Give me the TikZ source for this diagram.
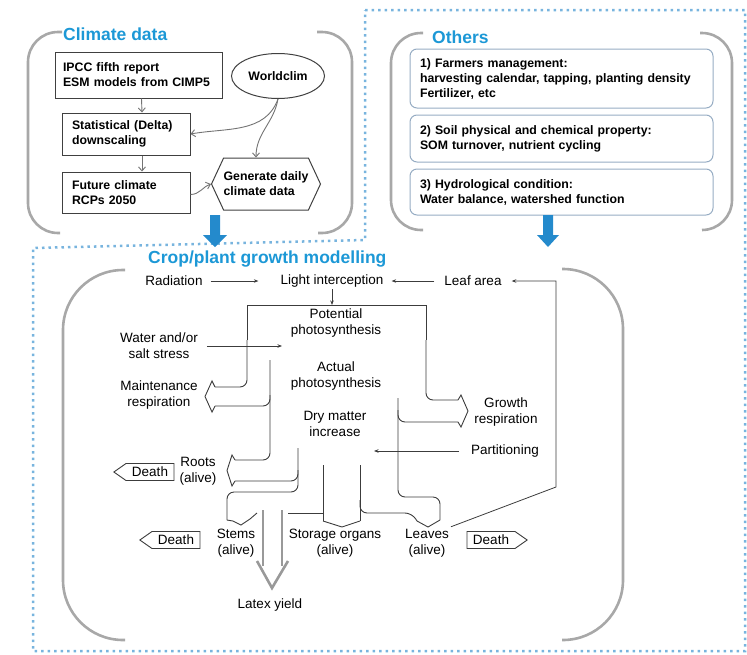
\documentclass[tikz,border=0pt]{standalone}
\usepackage{fontspec}
\setmainfont{Liberation Sans}
\usetikzlibrary{arrows.meta,shapes.geometric,shapes.symbols}
\definecolor{titleBlue}{RGB}{28,152,214}
\definecolor{arrowBlue}{RGB}{36,138,204}
\definecolor{dotBlue}{RGB}{120,180,222}
\definecolor{bracketGray}{RGB}{168,168,168}
\definecolor{boxEdge}{RGB}{150,172,195}
\definecolor{flowGray}{RGB}{60,60,60}
\newcommand{\titleFont}{\fontsize{17.5}{20}\selectfont\bfseries}
\newcommand{\boxFont}{\fontsize{12.3}{15}\selectfont\bfseries}
\newcommand{\flowFont}{\fontsize{13.5}{16}\selectfont}
\newcommand{\pictureWidth}{747}
\newcommand{\pictureHeight}{654}
\newcommand{\panelRadius}{30pt}
\newcommand{\cropRadius}{60pt}

\begin{document}
\begin{tikzpicture}[x=1pt, y=-1pt,
    bracket/.style={draw=bracketGray, line width=2.6pt, rounded corners=#1},
    titleText/.style={text=titleBlue, font=\titleFont, anchor=base west, inner sep=0pt},
    climBox/.style={draw=black!75, line width=1pt, font=\boxFont, align=left, inner xsep=8pt, inner ysep=0pt},
    otherBox/.style={draw=boxEdge, line width=1pt, rounded corners=7pt, font=\boxFont, align=left, text width=283pt, inner xsep=10pt, inner ysep=0pt},
    climArrow/.style={draw=black!55, line width=0.9pt, -{Straight Barb[length=4pt,width=7pt]}},
    flowText/.style={font=\flowFont, align=center, inner sep=2pt},
    flowArrow/.style={draw=flowGray, line width=0.8pt, -{Stealth[length=4.5pt,width=3.5pt]}},
    flowLine/.style={draw=flowGray, line width=0.9pt, rounded corners=7pt},
    flowHead/.style={draw=flowGray, line width=0.9pt, sharp corners},
    yieldLine/.style={draw=black!40, line width=2.2pt},
    deathBox/.style={draw=flowGray, line width=0.9pt, shape=signal, signal pointer angle=70, font=\flowFont, inner xsep=6pt, inner ysep=0pt, minimum height=17pt},
    dotBorder/.style={draw=dotBlue, line width=2.5pt, dash pattern=on 2.5pt off 4pt}]
\useasboundingbox (0,0) rectangle (\pictureWidth,\pictureHeight);
\draw[dotBorder] (365,10) -- (745,10) -- (745,651) -- (33,651) -- (33,248) -- (365,240) -- cycle;

% climate data
\draw[bracket=\panelRadius] (62,32) -- (28,32) -- (28,233) -- (60,233);
\draw[bracket=\panelRadius] (317,32) -- (352,32) -- (352,233) -- (318,233);
\node[titleText] (climTitle) at (63,40) {Climate data};
\node[climBox, text width=151pt, minimum height=46pt] (ipcc) at (138.5,75) {IPCC fifth report\\ESM models from CIMP5};
\node[climBox, inner xsep=10pt, text width=108pt, minimum height=42pt] (stat) at (126,134) {Statistical (Delta)\\downscaling};
\node[climBox, inner xsep=10pt, text width=108pt, minimum height=41pt] (future) at (126,192.5) {Future climate\\RCPs 2050};
\node[draw=black!75, line width=1pt, ellipse, font=\boxFont, minimum width=93pt, minimum height=45pt, inner sep=0pt] (world) at (278,76) {Worldclim};
\node[draw=black!75, line width=1pt, shape=signal, signal to=west and east, signal pointer angle=130, font=\boxFont, align=left, inner xsep=0pt, minimum height=52pt] (daily) at (266,184) {Generate daily\\climate data};
\draw[climArrow] ([xshift=3pt]ipcc.south) -- ([xshift=16pt]stat.north);
\draw[climArrow] ([xshift=16pt]stat.south) -- ([xshift=16pt]future.north);
\draw[climArrow] (world.south) to[out=-110,in=10] (stat.east);
\draw[climArrow] (world.south) to[out=-100,in=90] ([xshift=-10pt]daily.north);
\draw[climArrow] ([yshift=-2pt]future.east) to[out=0,in=200] (daily.west);

% others
\draw[bracket=\panelRadius] (423,33) -- (391,33) -- (391,230) -- (423,230);
\draw[bracket=\panelRadius] (700,33) -- (732,33) -- (732,230) -- (702,230);
\node[titleText] (othersTitle) at (432,43) {Others};
\node[otherBox, minimum height=59pt] (farm) at (561.5,78.5) {1) Farmers management:\\harvesting calendar, tapping, planting density\\Fertilizer, etc};
\node[otherBox, minimum height=47pt] (soil) at (561.5,138.5) {2) Soil physical and chemical property:\\SOM turnover, nutrient cycling};
\node[otherBox, minimum height=46pt] (hydro) at (561.5,192) {3) Hydrological condition:\\Water balance, watershed function};

\fill[arrowBlue] (210,215) -- (220,215) -- (220,235) -- (227,235) -- (215,247) -- (203,235) -- (210,235) -- cycle;
\fill[arrowBlue] (543,215) -- (553,215) -- (553,235) -- (559,235) -- (548,247) -- (537,235) -- (543,235) -- cycle;

% crop growth model
\node[titleText] (cropTitle) at (148,263) {Crop/plant growth modelling};
\draw[bracket=\cropRadius] (125,270) -- (63,270) -- (63,640) -- (125,640);
\draw[bracket=\cropRadius] (562,269) -- (623,269) -- (623,640) -- (562,640);

\node[flowText] (rad) at (174,281) {Radiation};
\node[flowText] (light) at (332,281) {Light interception};
\node[flowText] (leafarea) at (473,281) {Leaf area};
\node[flowText] (potential) at (336,323) {Potential\\photosynthesis};
\node[flowText] (stress) at (159,346) {Water and/or\\salt stress};
\node[flowText] (actual) at (336,376) {Actual\\photosynthesis};
\node[flowText] (maint) at (159,395) {Maintenance\\respiration};
\node[flowText] (growth) at (506,412) {Growth\\respiration};
\node[flowText] (dry) at (335,424) {Dry matter\\increase};
\node[flowText] (partition) at (505,451) {Partitioning};
\node[flowText] (roots) at (198,471) {Roots\\(alive)};
\node[flowText] (stems) at (236,543) {Stems\\(alive)};
\node[flowText] (storage) at (335,543) {Storage organs\\(alive)};
\node[flowText] (leaves) at (427,543) {Leaves\\(alive)};
\node[flowText] (latex) at (270,605) {Latex yield};
\node[deathBox, signal to=west] (rootsDeath) at (150,472) {Death};
\node[deathBox, signal to=west] (stemsDeath) at (176,540) {Death};
\node[deathBox, signal to=east] (leavesDeath) at (491,540) {Death};

\coordinate (barTop) at (332,305);
\coordinate (stressIn) at (282,346);
\coordinate (partIn) at (374,451);
\coordinate (laCorner) at (556,487);
\draw[flowArrow, shorten <=6pt, shorten >=20pt] (rad) -- (light);
\draw[flowArrow, shorten <=8pt, shorten >=6pt] (leafarea) -- (light);
\draw[flowArrow] (light) -- (barTop);
\draw[flowArrow, shorten <=7pt] (stress) -- (stressIn);
\draw[flowArrow, shorten <=10pt] (partition) -- (partIn);
\draw[flowArrow, shorten >=8pt] (leaves.north east) -- (laCorner) |- (leafarea);

% assimilate flows
\draw[flowLine, sharp corners] (247,340) -- (247,305) -- (426,305) -- (426,340);
\draw[flowLine] (247,340) -- (247,387) -- (215,387);
\draw[flowLine] (270,360) -- (270,460) -- (235,460);
\draw[flowLine] (270,395) -- (270,406) -- (215,406);
\draw[flowHead] (215,387) -- (212,381) -- (205,396.5) -- (212,412) -- (215,406);
\draw[flowLine] (426,340) -- (426,400) -- (458,400);
\draw[flowLine] (398,398) -- (398,497) -- (440,497) -- (440,520);
\draw[flowLine] (398,410) -- (398,422) -- (458,422);
\draw[flowHead] (458,400) -- (461,395) -- (468,411) -- (461,427) -- (458,422);
\draw[flowLine] (298,448) -- (298,481) -- (235,481);
\draw[flowHead] (235,460) -- (232,455) -- (227,470.5) -- (232,486) -- (235,481);
\draw[flowLine] (298,470) -- (298,492) -- (227,492) -- (227,520);
\draw[flowHead] (227,520) -- (233,521) -- (241,525) -- (250,519) -- (257,513);
\draw[flowLine] (288,513) -- (323,513);
\draw[flowLine] (323,465) -- (323,521);
\draw[flowLine] (360,465) -- (360,521);
\draw[flowHead] (323,521) -- (342,527) -- (360,521);
\draw[flowLine] (360,500) -- (360,513) -- (412,513) -- (417,521);
\draw[flowHead] (417,521) -- (428,527) -- (440,520);

% latex yield
\draw[yieldLine] (263,510) -- (263,566);
\draw[yieldLine] (282,510) -- (282,566);
\draw[yieldLine, line width=2.6pt] (257,561) -- (272,588) -- (288,561);
\end{tikzpicture}
\end{document}
